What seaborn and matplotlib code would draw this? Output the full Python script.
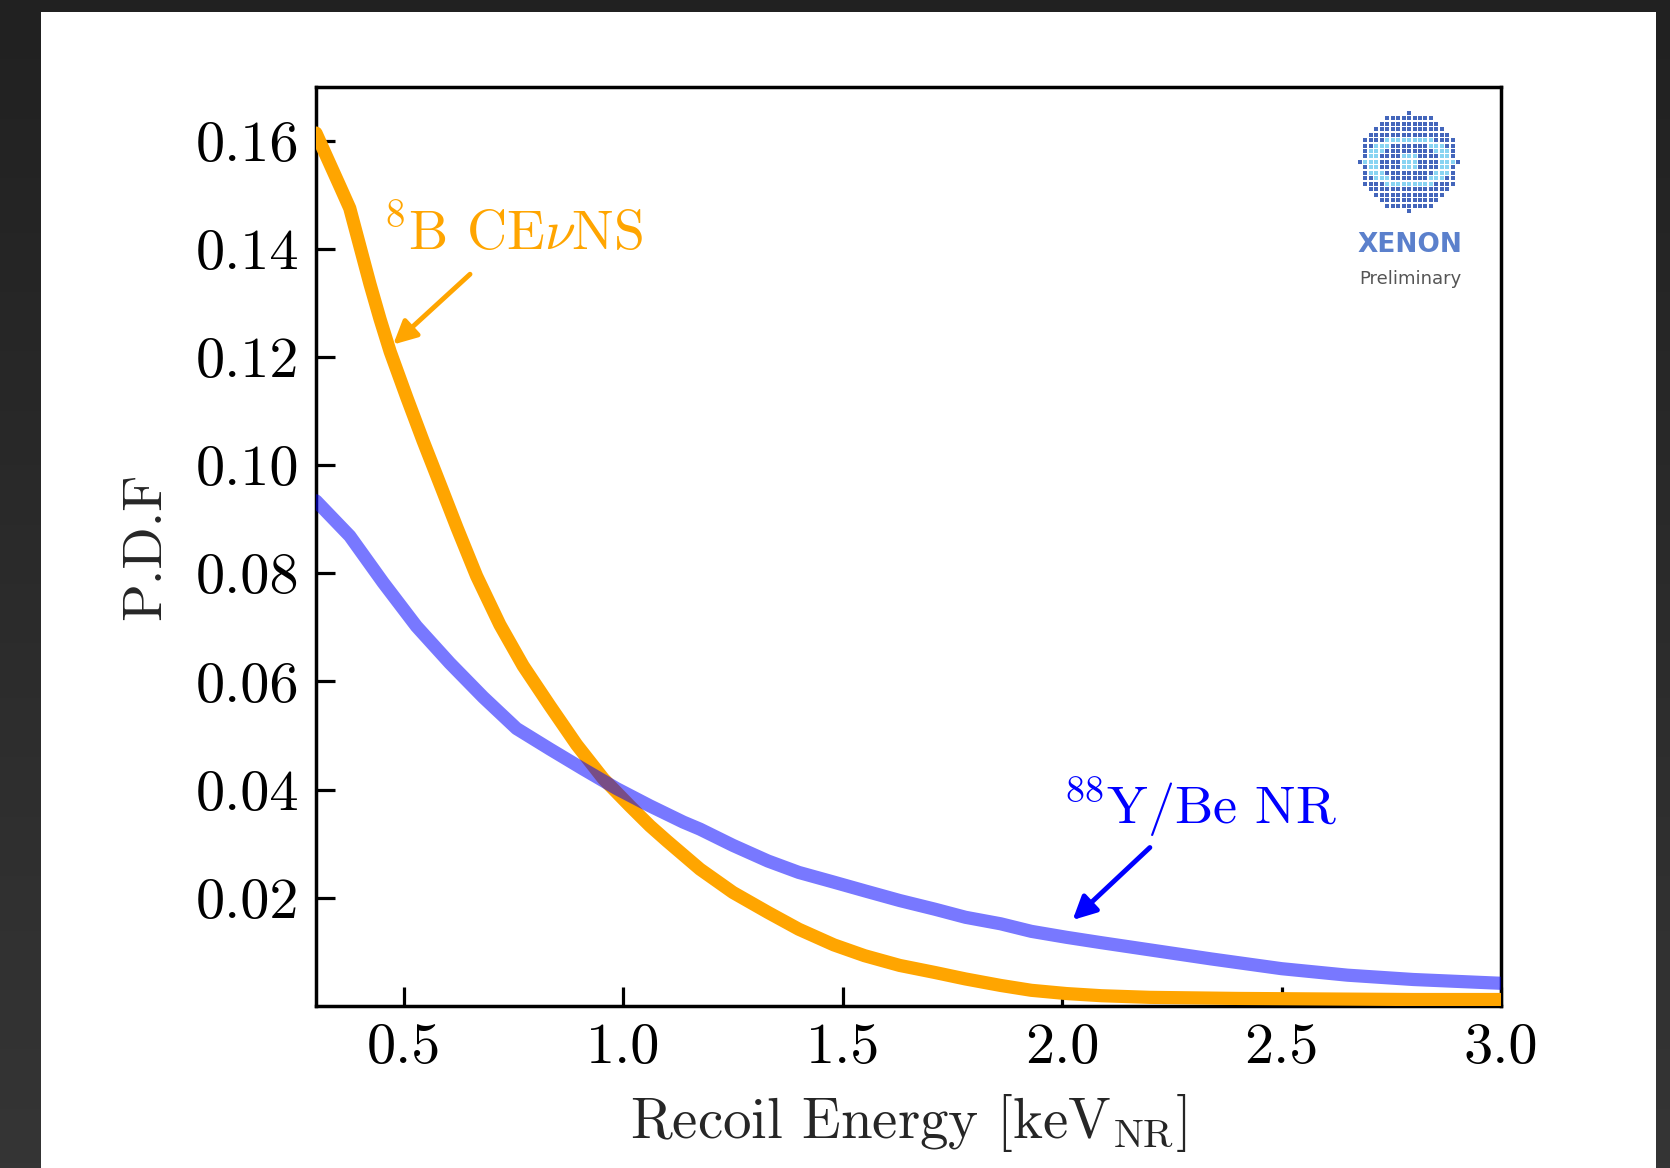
import numpy as np
import matplotlib
matplotlib.use("Agg")
import matplotlib.pyplot as plt
import seaborn as sns
from matplotlib.colors import LinearSegmentedColormap
from matplotlib.patches import Rectangle
from matplotlib.ticker import FormatStrFormatter

# Normalised recoil spectra, energy in keV_NR
b8_energy = [0.30, 0.355, 0.377, 0.40, 0.423, 0.446, 0.469, 0.507, 0.544, 0.586,
             0.621, 0.666, 0.719, 0.772, 0.833, 0.894, 0.955, 1.015, 1.061, 1.10,
             1.175, 1.25, 1.33, 1.40, 1.48, 1.55, 1.63, 1.71, 1.78, 1.86,
             1.93, 2.01, 2.09, 2.20, 2.40, 2.60, 2.80, 3.00]
b8_pdf = [0.1614, 0.1515, 0.1475, 0.1405, 0.1335, 0.1270, 0.1210, 0.1125, 0.1045, 0.0958,
          0.0885, 0.0795, 0.0705, 0.0629, 0.0555, 0.0483, 0.0420, 0.0370, 0.0333, 0.0305,
          0.0253, 0.0210, 0.0173, 0.0142, 0.0113, 0.0093, 0.0075, 0.0062, 0.0050, 0.0038,
          0.0029, 0.0023, 0.0019, 0.0016, 0.0014, 0.0013, 0.0012, 0.0012]

ybe_energy = [0.30, 0.377, 0.453, 0.529, 0.605, 0.681, 0.757, 0.833, 0.909, 0.985,
              1.061, 1.137, 1.175, 1.25, 1.33, 1.40, 1.48, 1.55, 1.63, 1.71,
              1.78, 1.86, 1.93, 2.01, 2.09, 2.19, 2.34, 2.50, 2.65, 2.80, 3.00]
ybe_pdf = [0.0934, 0.0869, 0.0783, 0.0702, 0.0634, 0.0571, 0.0513, 0.0475, 0.0438, 0.0402,
           0.0370, 0.0340, 0.0327, 0.0297, 0.0268, 0.0247, 0.0229, 0.0213, 0.0195, 0.0179,
           0.0164, 0.0152, 0.0138, 0.0127, 0.0117, 0.0105, 0.0087, 0.0069, 0.0057, 0.0049, 0.0042]

x_ticks = [0.5, 1.0, 1.5, 2.0, 2.5, 3.0]
y_ticks = [0.02, 0.04, 0.06, 0.08, 0.10, 0.12, 0.14, 0.16]

b8_label = r"$^{8}$B CE$\nu$NS"
ybe_label = r"$^{88}$Y/Be NR"
x_label = r"Recoil Energy [keV$_{\rm NR}$]"
y_label = "P.D.F"

ORANGE = "#ffa500"
BLUE = "#0000ff"

sns.set_style("ticks")
plt.rcParams.update({
    "font.family": "serif",
    "font.serif": ["cmr10", "DejaVu Serif"],
    "mathtext.fontset": "cm",
    "axes.formatter.use_mathtext": True,
    "axes.unicode_minus": False,
})

fig = plt.figure(figsize=(16.7, 11.68), dpi=100)

# dark backdrop with a white sheet on top
bg = fig.add_axes([0, 0, 1, 1], zorder=-10)
grad = np.linspace(0, 1, 256).reshape(-1, 1)
bg_cmap = LinearSegmentedColormap.from_list("bg", ["#212121", "#353535"])
bg.imshow(grad, cmap=bg_cmap, aspect="auto", extent=[0, 1, 0, 1], origin="upper")
bg.add_patch(Rectangle((41 / 1670, 0), (1656 - 41) / 1670, 1 - 12 / 1168,
                       transform=bg.transAxes, facecolor="white", edgecolor="none"))
bg.set_xlim(0, 1)
bg.set_ylim(0, 1)
bg.axis("off")

ax = fig.add_axes([0.1892, 0.1387, 0.7096, 0.7872])
ax.set_facecolor("white")

sns.lineplot(x=b8_energy, y=b8_pdf, color=ORANGE, lw=9.5, ax=ax, zorder=3,
             solid_joinstyle="round")
sns.lineplot(x=ybe_energy, y=ybe_pdf, color=BLUE, alpha=0.53, lw=9.5, ax=ax, zorder=4,
             solid_joinstyle="round")

ax.set_xlim(0.3, 3.0)
ax.set_ylim(0.0, 0.17)
ax.set_xticks(x_ticks)
ax.set_yticks(y_ticks)
ax.xaxis.set_major_formatter(FormatStrFormatter("%.1f"))
ax.yaxis.set_major_formatter(FormatStrFormatter("%.2f"))
ax.tick_params(direction="in", length=14, width=2.3, labelsize=42, pad=12,
               top=False, right=False, colors="black")
for sp in ax.spines.values():
    sp.set_visible(True)
    sp.set_linewidth(2.5)
    sp.set_color("black")

ax.set_xlabel(x_label, fontsize=41, labelpad=13)
ax.set_ylabel(y_label, fontsize=40, labelpad=18)

# source labels with pointers
ax.text(0.453, 0.1399, b8_label, color=ORANGE, fontsize=40, ha="left", va="baseline")
ax.annotate("", xy=(0.476, 0.1223), xytext=(0.651, 0.1353),
            arrowprops=dict(arrowstyle="-|>", color=ORANGE, lw=3.5,
                            mutation_scale=35, shrinkA=0, shrinkB=0))
ax.text(2.002, 0.0336, ybe_label, color=BLUE, fontsize=39, ha="left", va="baseline")
ax.annotate("", xy=(2.024, 0.0159), xytext=(2.200, 0.0293),
            arrowprops=dict(arrowstyle="-|>", color=BLUE, lw=3.5,
                            mutation_scale=35, shrinkA=0, shrinkB=0))

# collaboration badge
logo = fig.add_axes([0.8126, 0.8168, 0.0623, 0.0891])
logo.set_xlim(-1.06, 1.06)
logo.set_ylim(-1.06, 1.06)
logo.set_aspect("equal")
logo.axis("off")
g = np.linspace(-1, 1, 19)
gx, gy = np.meshgrid(g, g)
inside = gx ** 2 + gy ** 2 <= 1.0
ring = np.abs((gx / 0.78) ** 2 + (gy / 0.48) ** 2 - 1) < 0.3
core = (np.abs(gx) < 0.15) & (np.abs(gy) < 0.15)
dark = inside & ~ring & ~core
light = inside & (ring | core)
logo.scatter(gx[dark], gy[dark], marker="s", s=8, color="#4466bb", linewidths=0)
logo.scatter(gx[light], gy[light], marker="s", s=8, color="#88d4f2", linewidths=0)

fig.text(0.8443, 0.7902, "XENON", color="#5b80cc", fontsize=19, fontweight="bold",
         family="DejaVu Sans", ha="center", va="center")
fig.text(0.8443, 0.7611, "Preliminary", color="#555555", fontsize=13,
         family="DejaVu Sans", ha="center", va="center")

fig.savefig("out.png", dpi=100)
